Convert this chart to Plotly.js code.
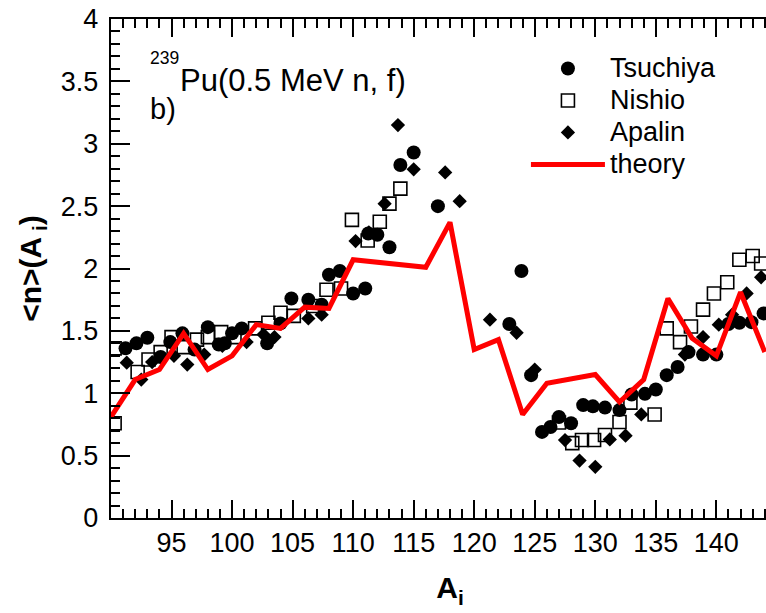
<!DOCTYPE html>
<html>
<head>
<meta charset="utf-8">
<script src="https://cdn.plot.ly/plotly-3.0.1.min.js"></script>
<style>
  html, body { margin: 0; padding: 0; overflow: hidden; background: #fff; }
  #chart { width: 810px; height: 613px; }
</style>
</head>
<body>
<div id="chart"></div>
<script>
// Tsuchiya data: fragment mass A_i and mean neutron multiplicity
const tsuchiyaA = [91.2, 92.1, 93.0, 94.1, 94.9, 95.9, 96.9, 98.0, 98.9, 99.4, 100.0, 100.8, 102.9, 104.0,
  104.9, 106.3, 107.4, 108.0, 108.9, 110.0, 111.0, 111.25, 112.0, 113.0, 113.9, 115.0, 117.0,
  122.9, 123.9, 124.7, 125.6, 126.3, 127.0, 128.0, 129.0, 129.8, 130.8, 132.0, 133.0, 134.1,
  135.0, 135.9, 136.8, 137.7, 138.9, 140.0, 141.0, 141.9, 142.9, 143.9];
const tsuchiyaN = [1.36, 1.40, 1.445, 1.29, 1.41, 1.48, 1.35, 1.53, 1.39, 1.40, 1.48, 1.52, 1.40, 1.56,
  1.76, 1.75, 1.71, 1.95, 1.98, 1.80, 1.84, 2.28, 2.27, 2.17, 2.83, 2.93, 2.50,
  1.555, 1.98, 1.145, 0.69, 0.73, 0.81, 0.76, 0.905, 0.895, 0.885, 0.865, 0.99, 0.995,
  1.03, 1.145, 1.21, 1.33, 1.31, 1.31, 1.555, 1.565, 1.57, 1.64];

// Nishio data
const nishioA = [90.3, 90.3, 92.2, 93.1, 94.1, 95.0, 96.0, 97.1, 98.0, 99.1, 100.2, 101.9, 103.0, 104.0,
  105.1, 106.7, 107.8, 109.0, 109.9, 111.2, 112.2, 113.0, 113.9,
  127.0, 128.1, 128.9, 129.9, 130.8, 132.0, 132.9, 134.9, 135.9, 137.0, 137.9, 138.9, 139.8,
  140.9, 141.9, 143.0, 143.7];
const nishioN = [0.76, 1.36, 1.17, 1.27, 1.33, 1.45, 1.37, 1.43, 1.45, 1.49, 1.45, 1.52, 1.565, 1.645,
  1.62, 1.70, 1.83, 1.84, 2.39, 2.225, 2.375, 2.52, 2.64,
  0.765, 0.60, 0.625, 0.625, 0.665, 0.77, 0.925, 0.83, 1.52, 1.41, 1.535, 1.67, 1.80,
  1.89, 2.07, 2.10, 2.04];

// Apalin data
const apalinA = [91.3, 92.5, 93.4, 95.2, 96.3, 97.7, 99.2, 101.2, 102.6, 103.5, 106.3, 107.4,
  110.2, 111.3, 112.6, 113.7, 115.0, 117.6, 118.8, 121.3, 123.5, 125.0,
  127.5, 128.7, 130.0, 131.2, 132.5, 133.8, 137.4, 138.9, 140.2, 141.3, 142.5, 143.7];
const apalinN = [1.245, 1.11, 1.25, 1.30, 1.23, 1.31, 1.38, 1.41, 1.47, 1.45, 1.60, 1.63,
  2.22, 2.29, 2.52, 3.15, 2.795, 2.77, 2.54, 1.59, 1.485, 1.19,
  0.625, 0.46, 0.41, 0.63, 0.66, 0.83, 1.31, 1.45, 1.55, 1.63, 1.80, 1.93];

// Model calculation
const theoryA = [90, 92, 94, 96, 98, 100, 102, 104, 106, 108, 110, 116, 118, 120, 122, 124, 126,
  130, 132, 134, 136, 138, 140, 142, 144];
const theoryN = [0.81, 1.11, 1.19, 1.48, 1.19, 1.30, 1.55, 1.52, 1.69, 1.68, 2.07, 2.01, 2.37,
  1.35, 1.43, 0.83, 1.08, 1.15, 0.93, 1.11, 1.76, 1.44, 1.30, 1.81, 1.33];

// Axis labels
const xTickVals = [95, 100, 105, 110, 115, 120, 125, 130, 135, 140];
const xTickText = ['95', '100', '105', '110', '115', '120', '125', '130', '135', '140'];

const FONT = '"Liberation Sans", Arial, Helvetica, sans-serif';
// legend entry text is drawn a little larger than the row spacing font
const legendName = s => '<span style="font-size:27px">' + s + '</span>';

const traces = [
  {
    x: tsuchiyaA, y: tsuchiyaN, name: legendName('Tsuchiya'), type: 'scatter', mode: 'markers',
    marker: { symbol: 'circle', size: 14, color: '#000' }
  },
  {
    x: nishioA, y: nishioN, name: legendName('Nishio'), type: 'scatter', mode: 'markers',
    marker: { symbol: 'square-open', size: 13, color: '#000', line: { width: 1.6, color: '#000' } }
  },
  {
    x: apalinA, y: apalinN, name: legendName('Apalin'), type: 'scatter', mode: 'markers',
    marker: { symbol: 'diamond', size: 11, color: '#000' }
  },
  {
    x: theoryA, y: theoryN, name: legendName('theory'), type: 'scatter', mode: 'lines',
    line: { color: '#ff0000', width: 5 }
  }
];

const layout = {
  width: 810, height: 613,
  margin: { l: 111, r: 21, t: 19, b: 95 },
  paper_bgcolor: '#fff', plot_bgcolor: '#fff',
  font: { family: FONT, color: '#000' },
  showlegend: true,
  legend: {
    x: 0.612, y: 0.943, xanchor: 'left', yanchor: 'top',
    bgcolor: 'rgba(0,0,0,0)', borderwidth: 0,
    font: { family: FONT, size: 22.3, color: '#000' },
    itemwidth: 74, tracegroupgap: 0
  },
  xaxis: {
    range: [90, 146],
    showgrid: false, zeroline: false, showline: true, linecolor: '#000', linewidth: 2,
    mirror: 'allticks',
    tickmode: 'array', tickvals: xTickVals, ticktext: xTickText,
    ticks: 'inside', ticklen: 18, tickwidth: 1.5, tickcolor: '#000',
    tickfont: { family: FONT, size: 27, color: '#000' },
    minor: { tickmode: 'linear', tick0: 90, dtick: 1, ticks: 'inside', ticklen: 9, tickwidth: 1.5, tickcolor: '#000' },
    title: { text: '<b>A<sub>i</sub></b>', font: { family: FONT, size: 30, color: '#000' }, standoff: 20 }
  },
  yaxis: {
    range: [0, 4],
    showgrid: false, zeroline: false, showline: true, linecolor: '#000', linewidth: 2,
    mirror: 'allticks',
    tickmode: 'linear', tick0: 0, dtick: 0.5,
    ticksuffix: '\u2009',
    ticks: 'inside', ticklen: 19, tickwidth: 1.5, tickcolor: '#000',
    tickfont: { family: FONT, size: 27, color: '#000' },
    minor: { tickmode: 'linear', tick0: 0, dtick: 0.1, ticks: 'inside', ticklen: 9, tickwidth: 1.5, tickcolor: '#000' },
    title: { text: '<b>&lt;n&gt;(A<sub> i</sub>)</b>', font: { family: FONT, size: 30, color: '#000' }, standoff: 10 }
  },
  annotations: [
    {
      xref: 'paper', yref: 'paper', x: 0.0545, y: 0.922, xanchor: 'left', yanchor: 'middle',
      text: '239', showarrow: false,
      font: { family: FONT, size: 17.5, color: '#000' }
    },
    {
      xref: 'paper', yref: 'paper', x: 0.0985, y: 0.876, xanchor: 'left', yanchor: 'middle',
      text: 'Pu(0.5 MeV n, f)', showarrow: false,
      font: { family: FONT, size: 31, color: '#000' }
    },
    {
      xref: 'paper', yref: 'paper', x: 0.0545, y: 0.82, xanchor: 'left', yanchor: 'middle',
      text: 'b)', showarrow: false,
      font: { family: FONT, size: 29, color: '#000' }
    }
  ]
};

Plotly.newPlot('chart', traces, layout, { displayModeBar: false });
</script>
</body>
</html>
